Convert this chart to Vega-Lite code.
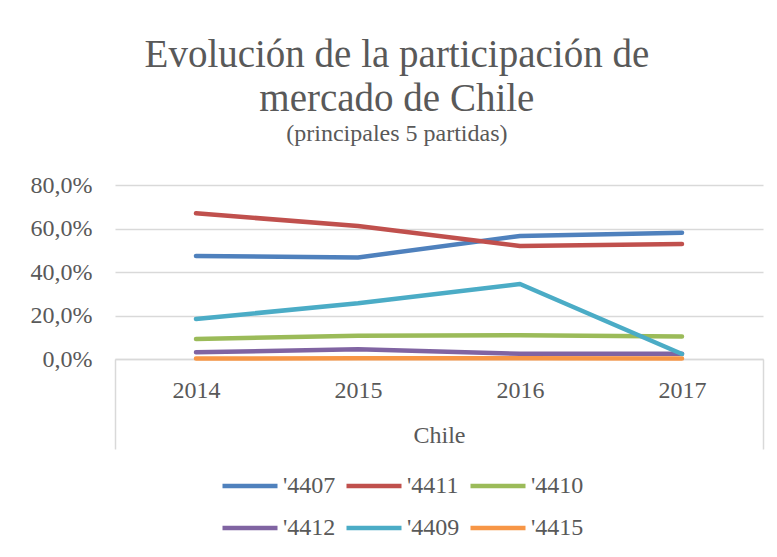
{
  "$schema": "https://vega.github.io/schema/vega-lite/v6.json",
  "width": 648,
  "height": 174,
  "autosize": "none",
  "padding": {"left": 115, "top": 185, "right": 14, "bottom": 198},
  "background": "white",
  "title": {
    "text": ["Evolución de la participación de", "mercado de Chile"],
    "subtitle": "(principales 5 partidas)",
    "font": "Liberation Serif",
    "subtitleFont": "Liberation Serif",
    "fontSize": 39,
    "subtitleFontSize": 24,
    "fontWeight": "normal",
    "subtitleFontWeight": "normal",
    "color": "#595959",
    "subtitleColor": "#595959",
    "anchor": "middle",
    "frame": "bounds",
    "lineHeight": 44,
    "subtitlePadding": 3,
    "offset": 27
  },
  "data": {
    "values": [
      {"partida": "'4407", "anio": "2014", "pais": "Chile", "valor": 0.474},
      {"partida": "'4407", "anio": "2015", "pais": "Chile", "valor": 0.467},
      {"partida": "'4407", "anio": "2016", "pais": "Chile", "valor": 0.566},
      {"partida": "'4407", "anio": "2017", "pais": "Chile", "valor": 0.581},
      {"partida": "'4411", "anio": "2014", "pais": "Chile", "valor": 0.670},
      {"partida": "'4411", "anio": "2015", "pais": "Chile", "valor": 0.611},
      {"partida": "'4411", "anio": "2016", "pais": "Chile", "valor": 0.520},
      {"partida": "'4411", "anio": "2017", "pais": "Chile", "valor": 0.529},
      {"partida": "'4410", "anio": "2014", "pais": "Chile", "valor": 0.092},
      {"partida": "'4410", "anio": "2015", "pais": "Chile", "valor": 0.107},
      {"partida": "'4410", "anio": "2016", "pais": "Chile", "valor": 0.109},
      {"partida": "'4410", "anio": "2017", "pais": "Chile", "valor": 0.103},
      {"partida": "'4412", "anio": "2014", "pais": "Chile", "valor": 0.031},
      {"partida": "'4412", "anio": "2015", "pais": "Chile", "valor": 0.045},
      {"partida": "'4412", "anio": "2016", "pais": "Chile", "valor": 0.024},
      {"partida": "'4412", "anio": "2017", "pais": "Chile", "valor": 0.024},
      {"partida": "'4409", "anio": "2014", "pais": "Chile", "valor": 0.184},
      {"partida": "'4409", "anio": "2015", "pais": "Chile", "valor": 0.256},
      {"partida": "'4409", "anio": "2016", "pais": "Chile", "valor": 0.345},
      {"partida": "'4409", "anio": "2017", "pais": "Chile", "valor": 0.023},
      {"partida": "'4415", "anio": "2014", "pais": "Chile", "valor": 0.002},
      {"partida": "'4415", "anio": "2015", "pais": "Chile", "valor": 0.004},
      {"partida": "'4415", "anio": "2016", "pais": "Chile", "valor": 0.003},
      {"partida": "'4415", "anio": "2017", "pais": "Chile", "valor": 0.002}
    ]
  },
  "layer": [
    {
      "mark": {"type": "line", "strokeWidth": 4.5, "strokeCap": "round", "strokeJoin": "round"},
      "encoding": {
        "x": {
          "field": "anio",
          "type": "ordinal",
          "scale": {"type": "point", "padding": 0.5},
          "axis": {
            "title": null,
            "labelAngle": 0,
            "labelPadding": 19,
            "ticks": false,
            "grid": false,
            "domainColor": "#d9d9d9",
            "domainWidth": 1.5,
            "orient": "bottom"
          }
        },
        "y": {
          "field": "valor",
          "type": "quantitative",
          "scale": {"domain": [0, 0.8], "nice": false, "zero": true},
          "axis": {
            "title": null,
            "values": [0, 0.2, 0.4, 0.6, 0.8],
            "labelExpr": "replace(format(datum.value, '.1%'), '.', ',')",
            "domain": false,
            "ticks": false,
            "gridColor": "#d9d9d9",
            "gridWidth": 1.5,
            "labelPadding": 23
          }
        },
        "color": {
          "field": "partida",
          "type": "nominal",
          "scale": {
            "domain": ["'4407", "'4411", "'4410", "'4412", "'4409", "'4415"],
            "range": ["#4F81BD", "#C0504D", "#9BBB59", "#8064A2", "#4BACC6", "#F79646"]
          },
          "legend": {
            "title": null,
            "orient": "none",
            "legendX": 105,
            "legendY": 271,
            "direction": "horizontal",
            "columns": 3,
            "symbolType": "stroke",
            "symbolSize": 3025,
            "symbolStrokeWidth": 4.5,
            "labelOffset": 3,
            "columnPadding": 1,
            "rowPadding": -11,
            "padding": 0
          }
        }
      }
    },
    {
      "mark": {"type": "point", "opacity": 0},
      "encoding": {
        "x": {
          "field": "pais",
          "type": "nominal",
          "scale": {"type": "band", "paddingInner": 0, "paddingOuter": 0},
          "axis": {
            "title": null,
            "orient": "bottom",
            "labelAngle": 0,
            "tickBand": "extent",
            "tickSize": 90,
            "tickColor": "#d9d9d9",
            "tickWidth": 1.5,
            "domain": false,
            "grid": false,
            "labelPadding": -26
          }
        },
        "y": {"field": "valor", "type": "quantitative"}
      }
    }
  ],
  "resolve": {"scale": {"x": "independent"}, "axis": {"x": "independent"}},
  "config": {
    "view": {"stroke": null},
    "font": "Liberation Serif",
    "axis": {
      "labelFont": "Liberation Serif",
      "labelFontSize": 24,
      "labelColor": "#595959"
    },
    "legend": {
      "labelFont": "Liberation Serif",
      "labelFontSize": 24,
      "labelColor": "#595959"
    }
  }
}
